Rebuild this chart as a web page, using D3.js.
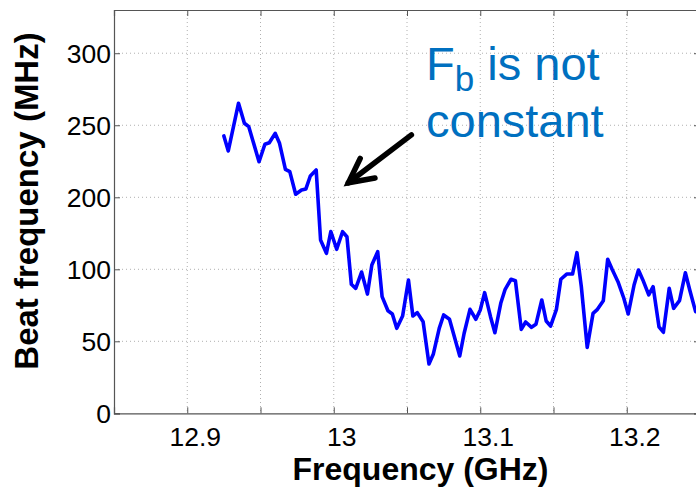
<!DOCTYPE html>
<html><head><meta charset="utf-8">
<script src="https://cdn.jsdelivr.net/npm/d3@7"></script>
<style>body{margin:0;background:#fff}svg{display:block}</style>
</head><body><svg id="c" width="696" height="494"></svg>
<script>
// ---- data ----
const freq = [12.925,12.928,12.935,12.939,12.942,12.949,12.953,12.956,12.960,12.963,
  12.967,12.970,12.974,12.978,12.981,12.984,12.988,12.991,12.995,12.998,
  13.002,13.006,13.009,13.012,13.015,13.019,13.023,13.026,13.030,13.033,
  13.037,13.040,13.043,13.047,13.051,13.054,13.057,13.061,13.065,13.068,
  13.072,13.075,13.079,13.082,13.086,13.089,13.093,13.097,13.100,13.103,
  13.107,13.110,13.114,13.117,13.121,13.124,13.128,13.131,13.135,13.138,
  13.142,13.145,13.148,13.152,13.155,13.159,13.163,13.166,13.169,13.173,
  13.177,13.180,13.184,13.187,13.190,13.194,13.198,13.201,13.205,13.208,
  13.211,13.215,13.218,13.222,13.225,13.229,13.232,13.236,13.240,13.243,13.247];
const beat = [242.6,232.2,265.3,251.4,249.0,224.7,236.8,237.9,244.4,237.5,
  219.4,217.8,202.1,205.1,205.8,214.8,219.0,140.7,122.2,152.5,
  127.8,152.2,145.3,89.6,86.8,98.1,82.8,106.0,124.4,81.0,
  71.2,69.0,59.0,67.6,92.6,67.6,69.9,63.6,34.2,41.2,
  59.0,68.3,65.3,54.4,39.8,55.6,72.2,65.3,71.7,83.8,
  67.1,56.0,76.4,86.1,93.1,92.1,58.3,63.4,59.7,61.8,
  78.7,64.1,60.6,72.2,93.1,96.7,96.7,123.1,87.9,45.8,
  69.4,72.2,78.2,113.9,100.0,91.4,79.9,69.0,89.1,99.5,
  92.6,82.2,87.9,60.1,56.3,86.8,72.9,78.2,97.6,85.6,70.6];
const xTickValues = [12.9,12.95,13,13.05,13.1,13.15,13.2,13.25];
const xTickLabels = ["12.9","","13","","13.1","","13.2",""];
const yTickValues = [0,50,100,200,250,300];
const yTickLabels = ["0","50","100","200","250","300"];
const xLabel = "Frequency (GHz)";
const yLabel = "Beat frequency (MHz)";
const noteMain = "F";
const noteSub = "b";
const noteRest = " is not";
const noteLine2 = "constant";
// annotation arrow: tail and tip in data units
const arrowTail = [13.053, 243.3];
const arrowTip = [13.010, 210.1];

// ---- layout ----
const L = 114, R = 700, T = 10, B = 413.3;
const svg = d3.select("#c");
const x = d3.scaleLinear().domain([12.85, 13.25]).range([L, R]);
// axis labels as printed on the figure (100 -> 200 spacing is half the others)
const y = d3.scaleLinear().domain([0, 100, 200, 330]).range([B, 269.3, 197.3, T]);

svg.append("rect").attr("x",0).attr("y",0).attr("width",696).attr("height",494).attr("fill","#fff");

const clipId = "pc";
svg.append("clipPath").attr("id", clipId).append("rect")
  .attr("x", L).attr("y", T).attr("width", R-L).attr("height", B-T);

// grid
const grid = svg.append("g");
grid.selectAll("line.gx").data(xTickValues).join("line")
  .attr("x1", d=>x(d)).attr("x2", d=>x(d)).attr("y1", T).attr("y2", B)
  .attr("stroke","#b0b0b0").attr("stroke-width",1).attr("stroke-dasharray","1,3");
grid.selectAll("line.gy").data(yTickValues.filter(d=>d>0)).join("line")
  .attr("y1", d=>y(d)).attr("y2", d=>y(d)).attr("x1", L).attr("x2", R)
  .attr("stroke","#b0b0b0").attr("stroke-width",1).attr("stroke-dasharray","1,3");

// axes (ticks inward)
const ax = "#555";
const tl = 6;
const xb = d3.axisBottom(x).tickValues(xTickValues).tickSize(-tl).tickFormat("");
const xt = d3.axisTop(x).tickValues(xTickValues).tickSize(-tl).tickFormat("");
const yl = d3.axisLeft(y).tickValues(yTickValues).tickSize(-tl).tickFormat("");
const yr = d3.axisRight(y).tickValues(yTickValues).tickSize(-tl).tickFormat("");
function styleAxis(g){ g.selectAll("path,line").attr("stroke", ax).attr("stroke-width",1); g.select(".domain").attr("stroke-width",1.2); }
svg.append("g").attr("transform",`translate(0,${B})`).call(xb).call(styleAxis);
svg.append("g").attr("transform",`translate(0,${T})`).call(xt).call(styleAxis);
svg.append("g").attr("transform",`translate(${L},0)`).call(yl).call(styleAxis);
svg.append("g").attr("transform",`translate(${R},0)`).call(yr).call(styleAxis);

// tick labels
const font = "Liberation Sans, Arial, sans-serif";
svg.append("g").selectAll("text").data(xTickValues.map((v,i)=>({v,l:xTickLabels[i]})).filter(d=>d.l))
  .join("text").attr("x", d=>x(d.v)+8).attr("y", 445.7)
  .attr("text-anchor","middle").attr("font-family",font).attr("font-size",26.5).attr("fill","#000")
  .text(d=>d.l);
svg.append("g").selectAll("text").data(yTickValues.map((v,i)=>({v,l:yTickLabels[i]})))
  .join("text").attr("x", 111).attr("y", d=>y(d.v)).attr("dy","0.36em")
  .attr("text-anchor","end").attr("font-family",font).attr("font-size",26.5).attr("fill","#000")
  .text(d=>d.l);

// axis titles
svg.append("text").attr("x", 420.5).attr("y", 480).attr("text-anchor","middle")
  .attr("font-family",font).attr("font-weight","bold").attr("font-size",32).attr("fill","#000").text(xLabel);
svg.append("text").attr("transform","translate(38,201) rotate(-90)").attr("text-anchor","middle")
  .attr("font-family",font).attr("font-weight","bold").attr("font-size",33).attr("fill","#000").text(yLabel);

// data line
const line = d3.line().x((d,i)=>x(freq[i])).y(d=>y(d));
svg.append("path").datum(beat).attr("clip-path",`url(#${clipId})`)
  .attr("d", line).attr("fill","none").attr("stroke","#0000ff").attr("stroke-width",3.6)
  .attr("stroke-linejoin","round").attr("stroke-linecap","round");

// annotation arrow
const tx = x(arrowTail[0]), ty = y(arrowTail[1]), px = x(arrowTip[0]), py = y(arrowTip[1]);
const ang = Math.atan2(ty-py, tx-px);
const hl = 27, ha = 0.47;
const a = svg.append("g").attr("stroke","#000").attr("stroke-width",5.5).attr("stroke-linecap","round").attr("fill","none");
a.append("line").attr("x1",tx).attr("y1",ty).attr("x2",px).attr("y2",py);
a.append("polyline").attr("stroke-linejoin","miter").attr("points",[
  [px+hl*Math.cos(ang-ha), py+hl*Math.sin(ang-ha)],
  [px, py],
  [px+hl*Math.cos(ang+ha), py+hl*Math.sin(ang+ha)]].map(p=>p.join(",")).join(" "));

// annotation text
const note = svg.append("text").attr("x", 426).attr("y", 80)
  .attr("font-family",font).attr("font-size",47).attr("fill","#0070c0");
note.append("tspan").text(noteMain);
note.append("tspan").attr("font-size",35).attr("dy",11).text(noteSub);
note.append("tspan").attr("dy",-11).text(noteRest);
svg.append("text").attr("x", 426).attr("y", 136.7)
  .attr("font-family",font).attr("font-size",47).attr("fill","#0070c0").text(noteLine2);
</script>
</body></html>
